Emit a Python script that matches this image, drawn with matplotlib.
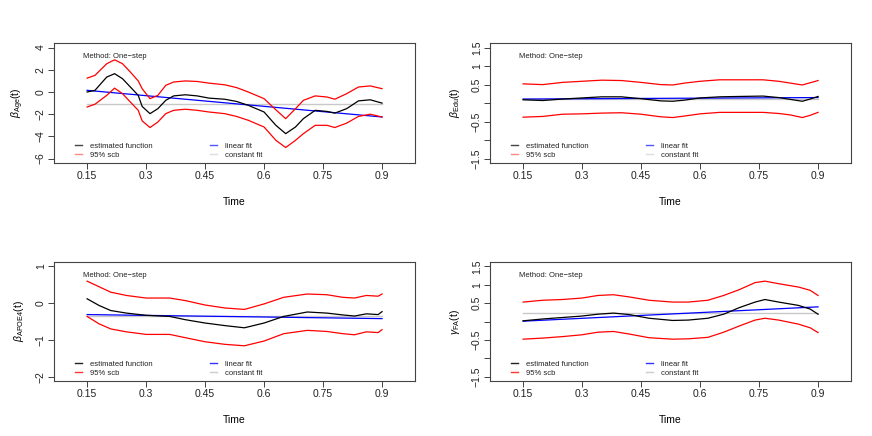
import matplotlib
matplotlib.use('Agg')
import matplotlib.pyplot as plt
from matplotlib.lines import Line2D

plt.rcParams['font.family'] = ['Liberation Sans', 'DejaVu Sans']
plt.rcParams['mathtext.fontset'] = 'custom'
plt.rcParams['mathtext.rm'] = 'Liberation Sans'
plt.rcParams['mathtext.it'] = 'Liberation Sans:italic'

# ---- data ----
# panel 1: Age
age_t = [0.15, 0.17, 0.2, 0.22, 0.24, 0.26, 0.28, 0.29, 0.31, 0.33, 0.35, 0.37, 0.4, 0.43,
         0.46, 0.5, 0.53, 0.56, 0.6, 0.63, 0.655, 0.68, 0.7, 0.73, 0.76, 0.78, 0.81, 0.84, 0.87, 0.9]
age_est = [0.0, 0.15, 1.35, 1.65, 1.2, 0.45, -0.3, -1.3, -1.95, -1.5, -0.75, -0.35, -0.25, -0.35,
           -0.55, -0.65, -0.85, -1.2, -1.8, -3.0, -3.75, -3.15, -2.4, -1.65, -1.75, -1.9, -1.5, -0.8, -0.7, -1.0]
age_up = [1.25, 1.5, 2.55, 2.9, 2.55, 1.8, 1.0, 0.3, -0.6, -0.3, 0.6, 0.9, 1.0, 0.95,
          0.8, 0.65, 0.4, 0.0, -0.6, -1.6, -2.4, -1.5, -0.75, -0.35, -0.45, -0.65, -0.15, 0.45, 0.55, 0.3]
age_lo = [-1.35, -1.1, -0.3, 0.35, -0.15, -0.9, -1.65, -2.6, -3.2, -2.7, -1.95, -1.65, -1.55, -1.65,
          -1.8, -1.95, -2.2, -2.55, -3.15, -4.35, -5.0, -4.35, -3.75, -3.0, -3.0, -3.2, -2.8, -2.2, -2.0, -2.25]
age_lin = [0.15, -2.25]
age_const = -1.05

# panel 2: Edu
edu_t = [0.15, 0.2, 0.25, 0.3, 0.35, 0.4, 0.45, 0.5, 0.53, 0.56, 0.6, 0.65, 0.7, 0.76, 0.8, 0.83, 0.86, 0.88, 0.9]
edu_est = [0.09, 0.07, 0.11, 0.14, 0.17, 0.17, 0.12, 0.06, 0.05, 0.08, 0.14, 0.17, 0.18, 0.19, 0.15, 0.1, 0.05, 0.11, 0.18]
edu_up = [0.52, 0.5, 0.56, 0.59, 0.62, 0.61, 0.56, 0.5, 0.49, 0.54, 0.59, 0.63, 0.63, 0.63, 0.59, 0.54, 0.49, 0.55, 0.61]
edu_lo = [-0.38, -0.36, -0.3, -0.29, -0.27, -0.26, -0.3, -0.37, -0.39, -0.35, -0.29, -0.25, -0.25, -0.25, -0.28, -0.32, -0.39, -0.33, -0.25]
edu_lin = [0.11, 0.15]
edu_const = 0.12

# panel 3: APOE4
apoe_t = [0.15, 0.18, 0.21, 0.25, 0.3, 0.36, 0.4, 0.45, 0.5, 0.55, 0.6, 0.65, 0.71, 0.76, 0.8, 0.83, 0.86, 0.89, 0.9]
apoe_est = [0.12, -0.06, -0.2, -0.27, -0.33, -0.36, -0.45, -0.54, -0.61, -0.67, -0.54, -0.36, -0.24, -0.27, -0.32, -0.35, -0.29, -0.31, -0.23]
apoe_up = [0.6, 0.45, 0.3, 0.21, 0.14, 0.14, 0.07, -0.05, -0.13, -0.17, -0.02, 0.16, 0.25, 0.23, 0.16, 0.14, 0.21, 0.19, 0.25]
apoe_lo = [-0.36, -0.56, -0.7, -0.78, -0.85, -0.85, -0.94, -1.05, -1.12, -1.16, -1.03, -0.83, -0.74, -0.77, -0.83, -0.86, -0.78, -0.8, -0.72]
apoe_lin = [-0.31, -0.42]
apoe_const = -0.35

# panel 4: FA
fa_t = [0.15, 0.2, 0.25, 0.3, 0.34, 0.38, 0.42, 0.47, 0.53, 0.57, 0.62, 0.66, 0.7, 0.74, 0.765, 0.8, 0.85, 0.88, 0.9]
fa_est = [0.02, 0.07, 0.11, 0.15, 0.2, 0.23, 0.19, 0.09, 0.03, 0.04, 0.09, 0.2, 0.38, 0.53, 0.6, 0.53, 0.44, 0.34, 0.2]
fa_up = [0.53, 0.58, 0.6, 0.64, 0.71, 0.73, 0.67, 0.58, 0.53, 0.53, 0.58, 0.71, 0.87, 1.06, 1.1, 1.03, 0.94, 0.85, 0.71]
fa_lo = [-0.48, -0.45, -0.41, -0.36, -0.29, -0.27, -0.34, -0.44, -0.48, -0.47, -0.43, -0.29, -0.12, 0.04, 0.09, 0.04, -0.07, -0.17, -0.3]
fa_lin = [0.01, 0.4]
fa_const = 0.22

x_ticks = [0.15, 0.3, 0.45, 0.6, 0.75, 0.9]
x_ticklabels = ['0.15', '0.3', '0.45', '0.6', '0.75', '0.9']
legend_labels = ['estimated function', '95% scb', 'linear fit', 'constant fit']

panels = [
    dict(t=age_t, est=age_est, up=age_up, lo=age_lo, lin=age_lin, const=age_const,
         ylabel=r'$\beta_{\mathrm{Age}}\mathrm{(t)}$', ylim=(-6, 4),
         yticks=[-6, -4, -2, 0, 2, 4], yticklabels=['\u22126', '\u22124', '\u22122', '0', '2', '4'],
         pos=[0.062, 0.626, 0.414, 0.275], light=True),
    dict(t=edu_t, est=edu_est, up=edu_up, lo=edu_lo, lin=edu_lin, const=edu_const,
         ylabel=r'$\beta_{\mathrm{Edu}}\mathrm{(t)}$', ylim=(-1.5, 1.5),
         yticks=[-1.5, -1, -0.5, 0, 0.5, 1, 1.5],
         yticklabels=['\u22121.5', '', '\u22120.5', '', '0.5', '1', '1.5'],
         pos=[0.562, 0.626, 0.414, 0.275], light=True),
    dict(t=apoe_t, est=apoe_est, up=apoe_up, lo=apoe_lo, lin=apoe_lin, const=apoe_const,
         ylabel=r'$\beta_{\mathrm{APOE4}}\mathrm{(t)}$', ylim=(-2, 1),
         yticks=[-2, -1, 0, 1], yticklabels=['\u22122', '\u22121', '0', '1'],
         pos=[0.062, 0.126, 0.414, 0.273], light=False),
    dict(t=fa_t, est=fa_est, up=fa_up, lo=fa_lo, lin=fa_lin, const=fa_const,
         ylabel=r'$\gamma_{\mathrm{FA}}\mathrm{(t)}$', ylim=(-1.5, 1.5),
         yticks=[-1.5, -1, -0.5, 0, 0.5, 1, 1.5],
         yticklabels=['\u22121.5', '', '\u22120.5', '', '0.5', '1', '1.5'],
         pos=[0.562, 0.126, 0.414, 0.273], light=False),
]

fig = plt.figure(figsize=(8.72, 4.36), dpi=100, facecolor='white')

for p in panels:
    ax = fig.add_axes(p['pos'])
    t0, t1 = p['t'][0], p['t'][-1]
    ax.plot([t0, t1], [p['const'], p['const']], color='#c8c8c8', lw=1.0)
    ax.plot([t0, t1], p['lin'], color='blue', lw=0.9)
    ax.plot(p['t'], p['up'], color='red', lw=0.9)
    ax.plot(p['t'], p['lo'], color='red', lw=0.9)
    ax.plot(p['t'], p['est'], color='black', lw=0.9)

    # R-style axis limits with 4% padding
    ax.set_xlim(0.066, 0.984)
    y0, y1 = p['ylim']
    pad = (y1 - y0) * 0.04
    ax.set_ylim(y0 - pad, y1 + pad)
    ax.set_xticks(x_ticks)
    ax.set_xticklabels(x_ticklabels)
    ax.set_yticks(p['yticks'])
    ax.set_yticklabels(p['yticklabels'], rotation=90, va='center')
    ax.tick_params(labelsize=7.5, length=4, width=0.6, colors='#222222', pad=2)
    for s in ax.spines.values():
        s.set_linewidth(0.8)
        s.set_color('#444444')
    ax.set_xlabel('Time', fontsize=7.5, labelpad=11)
    ax.set_ylabel(p['ylabel'], fontsize=7.5, labelpad=7)

    ax.text(0.08, 0.89, 'Method: One\u2212step', transform=ax.transAxes, fontsize=5.5,
            ha='left', va='center', color='#222222')

    if p['light']:
        cols = ['#444444', '#ff8888', '#5555ff', '#dddddd']
    else:
        cols = ['#222222', '#ff3333', '#3333ff', '#cccccc']
    handles = [Line2D([], [], color=c, lw=1.0) for c in cols]
    leg = ax.legend(handles, legend_labels,
                    loc='lower left', bbox_to_anchor=(0.05, 0.01), ncol=2, frameon=False,
                    fontsize=5.5, handlelength=0.9, handletextpad=1.0, columnspacing=7.6,
                    labelspacing=0.25, borderaxespad=0)
    for txt in leg.get_texts():
        txt.set_color('#222222')

fig.savefig('out.png', dpi=100, facecolor='white')
